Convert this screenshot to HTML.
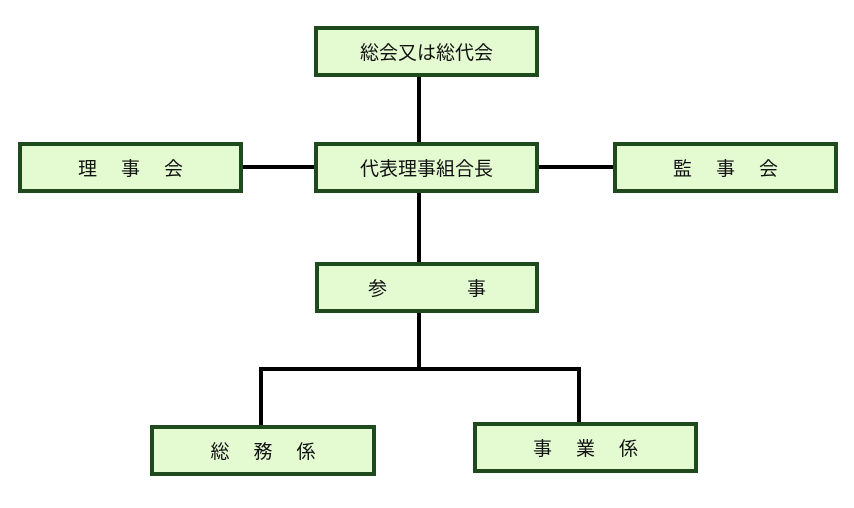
<!DOCTYPE html>
<html><head><meta charset="utf-8"><style>
body{margin:0;width:854px;height:508px;background:#fff;position:relative;overflow:hidden;font-family:"Liberation Sans","Noto Sans CJK JP",sans-serif;}
.b{position:absolute;box-sizing:border-box;border:4px solid #1e4a1e;background:#e4fbd2;display:flex;align-items:center;justify-content:center;font-size:19px;color:#111;white-space:nowrap;}
.b span{margin:0 12px;}
.l{position:absolute;background:#000;}
</style></head><body>
<div class="l" style="left:417px;top:76px;width:4px;height:190px"></div>
<div class="l" style="left:417px;top:310px;width:4px;height:60px"></div>
<div class="l" style="left:240px;top:165px;width:376px;height:4px"></div>
<div class="l" style="left:259px;top:367px;width:322px;height:4px"></div>
<div class="l" style="left:259px;top:367px;width:4px;height:60px"></div>
<div class="l" style="left:577px;top:367px;width:4px;height:57px"></div>
<div class="b" style="left:314px;top:26px;width:225px;height:51px">総会又は総代会</div>
<div class="b" style="left:314px;top:142px;width:225px;height:51px">代表理事組合長</div>
<div class="b" style="left:18px;top:142px;width:225px;height:51px"><span>理</span><span>事</span><span>会</span></div>
<div class="b" style="left:613px;top:142px;width:225px;height:51px"><span>監</span><span>事</span><span>会</span></div>
<div class="b" style="left:315px;top:262px;width:224px;height:51px"><span style="margin:0 40px">参</span><span style="margin:0 40px">事</span></div>
<div class="b" style="left:150px;top:425px;width:226px;height:51px"><span>総</span><span>務</span><span>係</span></div>
<div class="b" style="left:473px;top:422px;width:225px;height:51px"><span>事</span><span>業</span><span>係</span></div>
</body></html>
